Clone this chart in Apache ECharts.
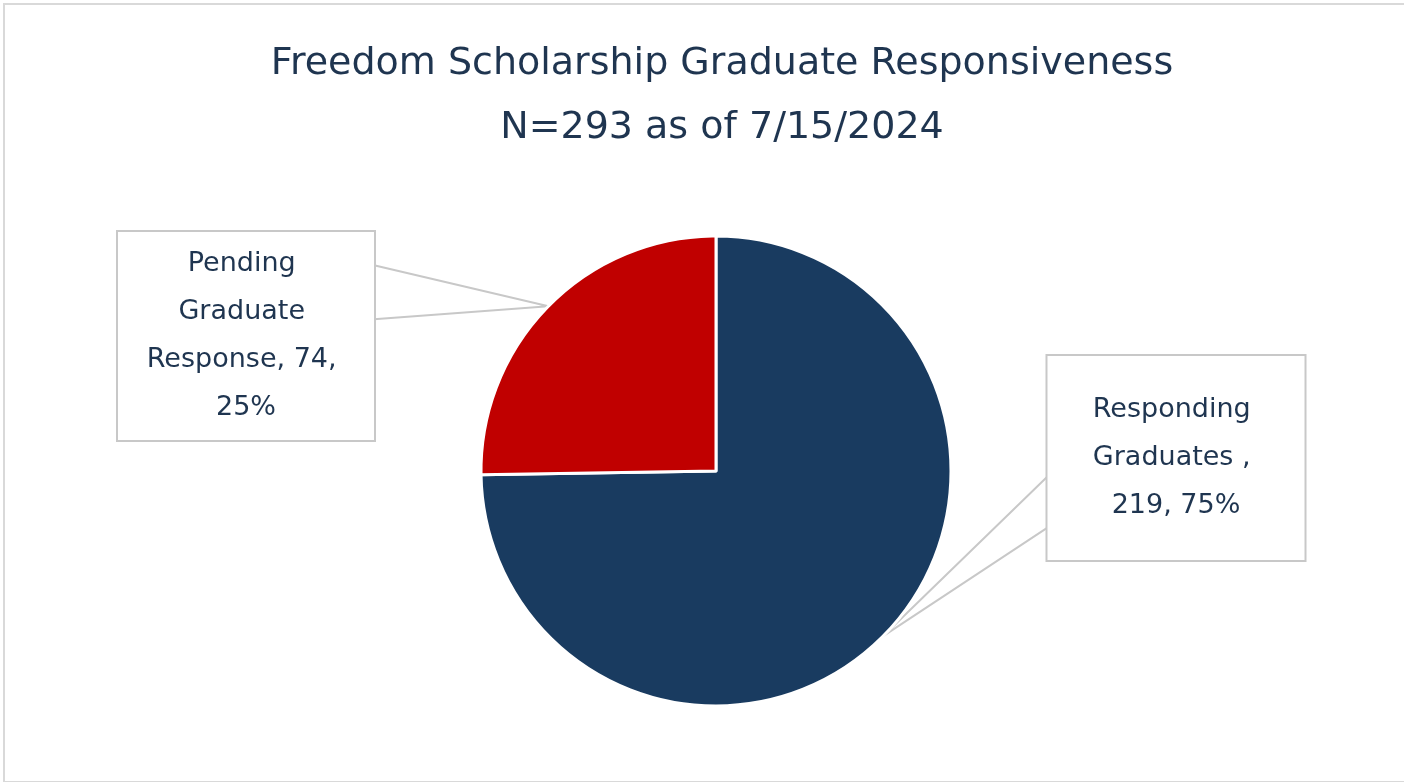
<!DOCTYPE html>
<html>
<head>
<meta charset="utf-8">
<title>Freedom Scholarship Graduate Responsiveness</title>
<script src="https://cdn.jsdelivr.net/npm/echarts@6/dist/echarts.min.js"></script>
<style>
  body { margin: 0; background: #fff; overflow: hidden; }
  #main {
    position: absolute; left: 3px; top: 3px;
    width: 1434px; height: 776px;
    border: 2px solid #d9d9d9;
  }
</style>
</head>
<body>
<div id="main"></div>
<script>
// data
const names = ["Responding Graduates ", "Pending Graduate Response"];
const counts = [219, 74];
const colors = ["#193b60", "#c00000"];
const asOf = "7/15/2024";

// callout boxes (container px): centre, size, text width, where the wedge meets the box
const boxes = [
  { cx: 1171, cy: 453, w: 257, h: 205, tw: 196, side: "left",  a: 0.59, b: 0.84, padY: 30 },
  { cx: 241,  cy: 331, w: 256, h: 208, tw: 216, side: "right", a: 0.16, b: 0.42, padY: 8 }
];

const total = counts.reduce((s, v) => s + v, 0);
const textColor = "#1f3550";
const font = "DejaVu Sans";

var myChart = echarts.init(document.getElementById("main"));

var option = {
  animation: false,
  title: {
    text: "Freedom Scholarship Graduate Responsiveness\nN=" + total + " as of " + asOf,
    left: "center",
    top: 22,
    textStyle: {
      fontFamily: font,
      fontSize: 38,
      fontWeight: "normal",
      color: textColor,
      lineHeight: 64
    }
  },
  series: [
    {
      type: "pie",
      center: [711, 466],
      radius: 235,
      startAngle: 90,
      clockwise: true,
      itemStyle: { borderColor: "#fff", borderWidth: 3 },
      label: {
        show: true,
        position: "outside",
        formatter: function (p) {
          return p.name + ", " + p.value + ", " + Math.round(p.percent) + "%";
        },
        fontFamily: font,
        fontSize: 27,
        lineHeight: 48,
        color: textColor,
        overflow: "break",
        align: "center",
        backgroundColor: "#fff",
        borderColor: "#c8c8c8",
        borderWidth: 2
      },
      labelLine: {
        show: true,
        lineStyle: { color: "#c8c8c8", width: 2 }
      },
      labelLayout: function (params) {
        const bx = boxes[params.dataIndex];
        const tip = params.labelLinePoints[0];
        const ex = bx.side === "left" ? bx.cx - bx.w / 2 : bx.cx + bx.w / 2;
        const top = bx.cy - bx.h / 2;
        return {
          x: bx.cx,
          y: bx.cy,
          align: "center",
          verticalAlign: "middle",
          labelLinePoints: [
            [ex, top + bx.h * bx.a],
            [tip[0], tip[1]],
            [ex, top + bx.h * bx.b]
          ]
        };
      },
      data: names.map((n, i) => ({
        name: n,
        value: counts[i],
        itemStyle: { color: colors[i] },
        label: {
          width: boxes[i].tw,
          padding: [boxes[i].padY, (boxes[i].w - boxes[i].tw) / 2]
        }
      }))
    }
  ]
};

myChart.setOption(option);
</script>
</body>
</html>
